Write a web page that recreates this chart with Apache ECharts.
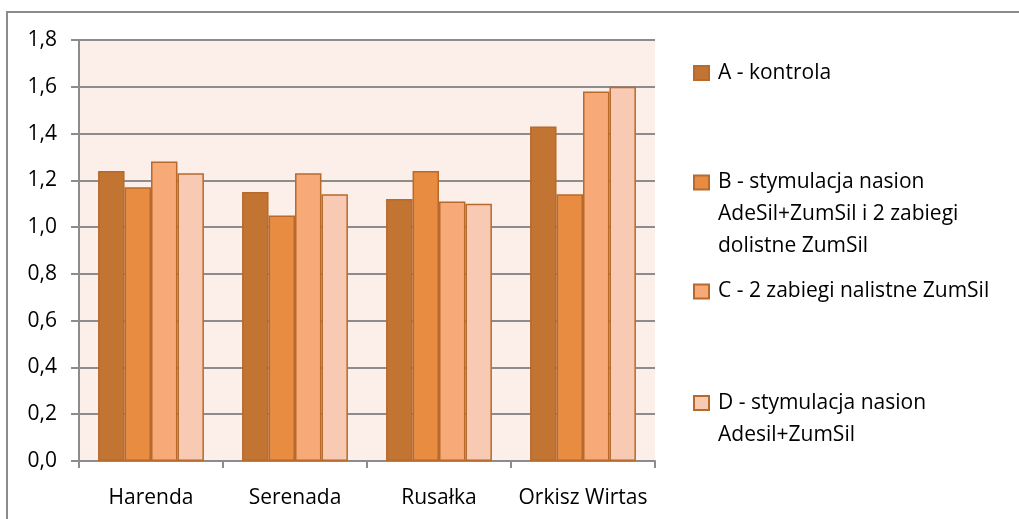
<!DOCTYPE html>
<html>
<head>
<meta charset="utf-8">
<script src="https://cdn.jsdelivr.net/npm/echarts@6/dist/echarts.min.js"></script>
<style>
  html, body { margin: 0; padding: 0; background: #ffffff; }
  #chart { width: 1019px; height: 519px; }
</style>
</head>
<body>
<div id="chart"></div>
<script>
// Varieties on the category axis
const categories = ['Harenda', 'Serenada', 'Rusałka', 'Orkisz Wirtas'];

// Treatment names (legend text)
const seriesNames = [
  'A - kontrola',
  'B - stymulacja nasion\nAdeSil+ZumSil i 2 zabiegi\ndolistne ZumSil',
  'C - 2 zabiegi nalistne ZumSil',
  'D - stymulacja nasion\nAdesil+ZumSil'
];

// Values per treatment, one entry per variety
const valuesA = [1.24, 1.15, 1.12, 1.43];
const valuesB = [1.17, 1.05, 1.24, 1.14];
const valuesC = [1.28, 1.23, 1.11, 1.58];
const valuesD = [1.23, 1.14, 1.10, 1.60];

// Value axis ticks
const yMin = 0;
const yMax = 1.8;
const yStep = 0.2;

const seriesValues = [valuesA, valuesB, valuesC, valuesD];
const fills = ['#C27432', '#E78C41', '#F7AA78', '#F8CAB3'];
const FONT = 'Open Sans';
const FONT_SIZE = 21;
const LINE_H = 32;

// Each legend entry: vertical position of its swatch centre
const legendCenters = [73, 182.5, 291.5, 403];

// The swatch sits beside the first line of a multi-line entry:
// blank lines are prepended so the first text line is the block's middle.
const legends = seriesNames.map((name, i) => {
  const lines = name.split('\n').length;
  const total = 2 * lines - 1;
  return {
    data: [name],
    orient: 'vertical',
    left: 693,
    top: legendCenters[i] - total * LINE_H / 2,
    padding: 0,
    itemWidth: 15,
    itemHeight: 14,
    selectedMode: false,
    icon: 'rect',
    formatter: n => '\n'.repeat(lines - 1) + n,
    textStyle: {
      fontFamily: FONT,
      fontSize: FONT_SIZE,
      color: '#000000',
      lineHeight: LINE_H,
      padding: [0, 0, 0, 4]
    }
  };
});

const chart = echarts.init(document.getElementById('chart'), null, { renderer: 'canvas' });

chart.setOption({
  animation: false,
  backgroundColor: '#ffffff',
  graphic: [{
    type: 'rect',
    shape: { x: 7, y: 12, width: 1100, height: 600 },
    style: { fill: 'none', stroke: '#8C8C8C', lineWidth: 2 },
    silent: true
  }],
  legend: legends,
  grid: {
    left: 79,
    right: 364,
    top: 40,
    bottom: 58,
    show: true,
    backgroundColor: '#FCEEE9',
    borderWidth: 0
  },
  xAxis: {
    type: 'category',
    data: categories,
    axisLine: { lineStyle: { color: '#8C8C8C', width: 2 } },
    axisTick: { show: true, interval: 0, length: 7, lineStyle: { color: '#8C8C8C', width: 2 } },
    axisLabel: {
      interval: 0,
      hideOverlap: false,
      margin: 27,
      fontFamily: FONT,
      fontSize: FONT_SIZE,
      color: '#000000'
    }
  },
  yAxis: {
    type: 'value',
    min: yMin,
    max: yMax,
    interval: yStep,
    axisLine: { show: true, lineStyle: { color: '#8C8C8C', width: 2 } },
    axisTick: { show: true, length: 8, lineStyle: { color: '#8C8C8C', width: 2 } },
    splitLine: { lineStyle: { color: '#8C8C8C', width: 2 } },
    axisLabel: {
      margin: 22,
      fontFamily: FONT,
      fontSize: FONT_SIZE,
      color: '#000000',
      formatter: v => v.toFixed(1).replace('.', ',')
    }
  },
  series: seriesNames.map((name, i) => ({
    name: name,
    type: 'bar',
    data: seriesValues[i],
    barGap: '0%',
    barCategoryGap: '26.5%',
    itemStyle: {
      color: fills[i],
      borderColor: '#B8692C',
      borderWidth: 1.5
    }
  }))
});
</script>
</body>
</html>
